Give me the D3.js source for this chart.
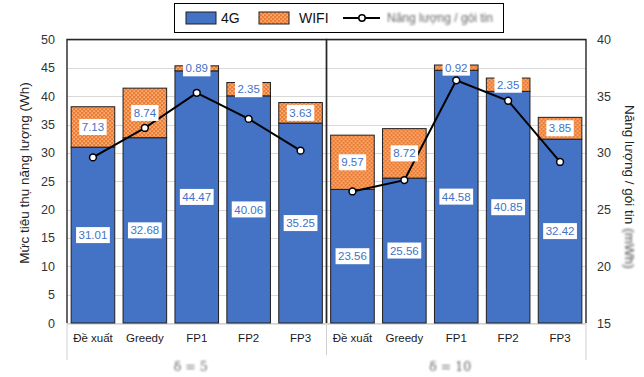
<!DOCTYPE html>
<html>
<head>
<meta charset="utf-8">
<script src="https://cdn.jsdelivr.net/npm/d3@7"></script>
<style>
  html, body { margin: 0; padding: 0; background: #fff; }
  svg { display: block; font-family: "Liberation Sans", Arial, sans-serif; }
</style>
</head>
<body>
<svg id="chart" width="644" height="377"></svg>
<script>
// Energy consumption per scheme, split by interface, for two delta settings
const groups = ["δ = 5", "δ = 10"];
const categories = ["Đề xuất", "Greedy", "FP1", "FP2", "FP3"];
const energy4G = [
  [31.01, 32.68, 44.47, 40.06, 35.25],
  [23.56, 25.56, 44.58, 40.85, 32.42]
];
const energyWifi = [
  [7.13, 8.74, 0.89, 2.35, 3.63],
  [9.57, 8.72, 0.92, 2.35, 3.85]
];
// Energy per packet (mWh), right axis
const energyPerPacket = [
  [29.6, 32.2, 35.3, 33.0, 30.2],
  [26.6, 27.6, 36.4, 34.6, 29.2]
];
const leftTicks = [0, 5, 10, 15, 20, 25, 30, 35, 40, 45, 50];
const rightTicks = [15, 20, 25, 30, 35, 40];
const seriesNames = ["4G", "WIFI", "Năng lượng / gói tin"];
const leftTitle = "Mức tiêu thụ năng lượng (Wh)";
const rightTitle = "Năng lượng / gói tin";
const rightUnit = "(mWh)";

const C4G = "#4472C4", CWIFI = "#ED7D31", LABEL = "#4472C4";
const plot = { left: 67, right: 586, top: 39.5, bottom: 323 };

const svg = d3.select("#chart");
const defs = svg.append("defs");

// dotted fill for the WIFI segments
const pat = defs.append("pattern").attr("id", "dots")
  .attr("patternUnits", "userSpaceOnUse").attr("width", 4).attr("height", 4);
pat.append("rect").attr("width", 4).attr("height", 4).attr("fill", CWIFI);
pat.append("rect").attr("x", 0.5).attr("y", 0.5).attr("width", 1.2).attr("height", 1.2).attr("fill", "#fff").attr("opacity", 0.8);
pat.append("rect").attr("x", 2.5).attr("y", 2.5).attr("width", 1.2).attr("height", 1.2).attr("fill", "#fff").attr("opacity", 0.8);

defs.append("filter").attr("id", "soft").attr("x", "-10%").attr("y", "-30%").attr("width", "120%").attr("height", "160%")
  .append("feGaussianBlur").attr("stdDeviation", 0.9);

const x0 = d3.scaleBand().domain(groups).range([plot.left, plot.right]);
const x1 = d3.scaleBand().domain(categories).range([0, x0.bandwidth()])
  .paddingInner(0.16).paddingOuter(0.08);
const yL = d3.scaleLinear().domain([0, 50]).range([plot.bottom, plot.top]);
const yR = d3.scaleLinear().domain([15, 40]).range([plot.bottom, plot.top]);

// gridlines
svg.append("g").selectAll("line").data(leftTicks).join("line")
  .attr("x1", plot.left).attr("x2", plot.right)
  .attr("y1", d => Math.round(yL(d)) + 0.5).attr("y2", d => Math.round(yL(d)) + 0.5)
  .attr("stroke", "#d9d9d9").attr("stroke-width", 1);

// category axis area: baseline and group separators
svg.append("line").attr("x1", plot.left).attr("x2", plot.right)
  .attr("y1", plot.bottom + 1).attr("y2", plot.bottom + 1)
  .attr("stroke", "#c8c8c8").attr("stroke-width", 1);
const seps = [plot.left, x0(groups[1]), plot.right];
svg.append("g").selectAll("line").data(seps).join("line")
  .attr("x1", d => d).attr("x2", d => d)
  .attr("y1", plot.bottom)
  .attr("y2", (d, i) => i === 1 ? 355 : 360)
  .attr("stroke", "#d0d0d0").attr("stroke-width", 1);

// bars
groups.forEach((g, gi) => {
  const gx = x0(g);
  const gSel = svg.append("g").attr("transform", `translate(${gx},0)`);
  categories.forEach((c, ci) => {
    const v4 = energy4G[gi][ci], vw = energyWifi[gi][ci];
    const bx = x1(c), bw = x1.bandwidth();
    gSel.append("rect").attr("x", bx).attr("width", bw)
      .attr("y", yL(v4)).attr("height", yL(0) - yL(v4))
      .attr("fill", C4G).attr("stroke", "#1f1f1f").attr("stroke-width", 1);
    gSel.append("rect").attr("x", bx).attr("width", bw)
      .attr("y", yL(v4 + vw)).attr("height", yL(v4) - yL(v4 + vw))
      .attr("fill", "url(#dots)").attr("stroke", "#1f1f1f").attr("stroke-width", 1);
  });

  // frame around each group (left, top, right)
  svg.append("path")
    .attr("d", `M${gx},${plot.bottom}V${plot.top}H${gx + x0.bandwidth()}V${plot.bottom}`)
    .attr("fill", "none").attr("stroke", "#262626").attr("stroke-width", 1.4);

  // per-packet energy line
  const line = d3.line()
    .x((d, i) => gx + x1(categories[i]) + x1.bandwidth() / 2)
    .y(d => yR(d));
  svg.append("path").datum(energyPerPacket[gi]).attr("d", line)
    .attr("fill", "none").attr("stroke", "#000").attr("stroke-width", 2);
  svg.append("g").selectAll("circle").data(energyPerPacket[gi]).join("circle")
    .attr("cx", (d, i) => gx + x1(categories[i]) + x1.bandwidth() / 2)
    .attr("cy", d => yR(d)).attr("r", 3.4)
    .attr("fill", "#fff").attr("stroke", "#000").attr("stroke-width", 1.5);

  // value labels centred in each segment
  const fmt = d3.format(".2f");
  categories.forEach((c, ci) => {
    const v4 = energy4G[gi][ci], vw = energyWifi[gi][ci];
    const cx = gx + x1(c) + x1.bandwidth() / 2;
    [[v4, yL(v4 / 2)], [vw, yL(v4 + vw / 2)]].forEach(([v, cy]) => {
      const lab = svg.append("g").attr("transform", `translate(${cx},${cy})`);
      const t = lab.append("text").text(fmt(v))
        .attr("text-anchor", "middle").attr("dy", "0.36em")
        .attr("font-size", 11.5).attr("fill", LABEL);
      const w = t.node().getComputedTextLength();
      lab.insert("rect", "text").attr("x", -w / 2 - 2.5).attr("y", -8)
        .attr("width", w + 5).attr("height", 16).attr("fill", "#fff");
    });
  });

  // category labels
  const ax = svg.append("g").attr("transform", `translate(${gx},${plot.bottom})`)
    .call(d3.axisBottom(x1).tickSize(0).tickPadding(11));
  ax.select(".domain").remove();
  ax.selectAll("text").attr("font-size", 11.5).attr("fill", "#1a1a1a")
    .attr("font-family", "Liberation Sans, Arial, sans-serif");

  // group label
  svg.append("text").attr("x", gx + x0.bandwidth() / 2 - 6).attr("y", 371)
    .attr("text-anchor", "middle").attr("font-size", 12.5)
    .attr("font-family", "DejaVu Serif, serif")
    .attr("fill", "#666").attr("filter", "url(#soft)").text(g);
});

// left axis
const axL = svg.append("g").attr("transform", `translate(${plot.left},0)`)
  .call(d3.axisLeft(yL).tickValues(leftTicks).tickSize(0).tickPadding(12));
axL.select(".domain").remove();
axL.selectAll("text").attr("font-size", 12.5).attr("fill", "#333")
  .attr("font-family", "Liberation Sans, Arial, sans-serif");

// right axis
const axR = svg.append("g").attr("transform", `translate(${plot.right},0)`)
  .call(d3.axisRight(yR).tickValues(rightTicks).tickSize(0).tickPadding(11));
axR.select(".domain").remove();
axR.selectAll("text").attr("font-size", 12.5).attr("fill", "#333")
  .attr("font-family", "Liberation Sans, Arial, sans-serif");

// axis titles
svg.append("text").attr("transform", "translate(29,173) rotate(-90)")
  .attr("text-anchor", "middle").attr("font-size", 13.5).attr("fill", "#222")
  .text(leftTitle);

const rt = svg.append("text").attr("transform", "translate(625,105) rotate(90)")
  .attr("text-anchor", "start").attr("font-size", 13.5).attr("fill", "#222")
  .text(rightTitle);
const rtLen = rt.node().getComputedTextLength();
svg.append("text").attr("transform", `translate(625,${105 + rtLen + 4}) rotate(90)`)
  .attr("text-anchor", "start").attr("font-size", 13.5).attr("fill", "#444")
  .attr("filter", "url(#soft)").text(rightUnit);

// legend
const lg = svg.append("g");
lg.append("rect").attr("x", 174.5).attr("y", 3.5).attr("width", 329).attr("height", 29)
  .attr("fill", "#fff").attr("stroke", "#000").attr("stroke-width", 1);
lg.append("rect").attr("x", 186).attr("y", 12).attr("width", 30).attr("height", 12)
  .attr("fill", C4G).attr("stroke", "#1f1f1f");
lg.append("text").attr("x", 221).attr("y", 18).attr("dy", "0.36em")
  .attr("font-size", 14).attr("fill", "#111").text(seriesNames[0]);
lg.append("rect").attr("x", 259).attr("y", 12).attr("width", 30).attr("height", 12)
  .attr("fill", "url(#dots)").attr("stroke", "#1f1f1f");
lg.append("text").attr("x", 299).attr("y", 18).attr("dy", "0.36em")
  .attr("font-size", 14).attr("fill", "#111").text(seriesNames[1]);
lg.append("line").attr("x1", 343).attr("x2", 380).attr("y1", 18).attr("y2", 18)
  .attr("stroke", "#000").attr("stroke-width", 2);
lg.append("circle").attr("cx", 362).attr("cy", 18).attr("r", 3.2)
  .attr("fill", "#fff").attr("stroke", "#000").attr("stroke-width", 1.5);
lg.append("text").attr("x", 387).attr("y", 18).attr("dy", "0.36em")
  .attr("font-size", 12).attr("fill", "#666").attr("filter", "url(#soft)")
  .text(seriesNames[2]);
</script>
</body>
</html>
